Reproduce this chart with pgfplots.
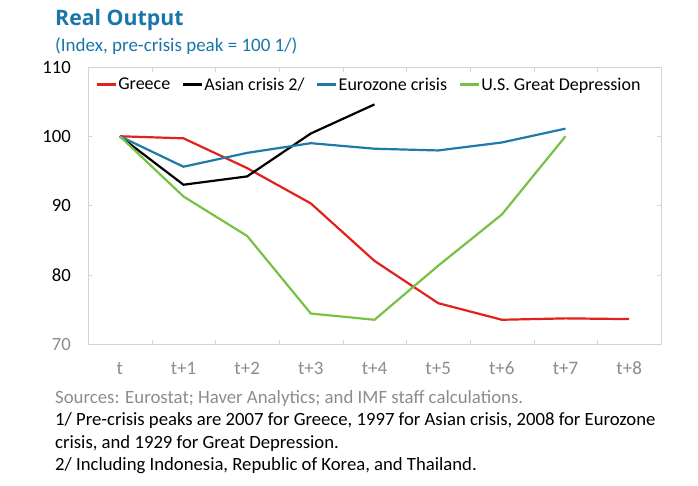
\documentclass[border=0pt]{standalone}
\usepackage{pgfplots}
\pgfplotsset{compat=1.18}
\usepackage{fontspec}
\setmainfont{Carlito}
\newfontfamily\titlefont{Open Sans}
\definecolor{titleblue}{HTML}{1A76A8}
\definecolor{grc}{HTML}{E2211C}
\definecolor{euro}{HTML}{1F7AA8}
\definecolor{usgd}{HTML}{77C145}
\definecolor{framegray}{HTML}{D4D4D4}
\definecolor{labgray}{HTML}{8C8C8C}
\begin{document}
\begin{tikzpicture}[x=1pt,y=1pt]
\begin{axis}[
  scale only axis, width=573pt, height=277pt,
  xmin=-0.5, xmax=8.5, ymin=70, ymax=110,
  xtick={0,...,8},
  xticklabels={t,t+1,t+2,t+3,t+4,t+5,t+6,t+7,t+8},
  extra x ticks={0.5,1.5,2.5,3.5,4.5,5.5,6.5,7.5},
  extra x tick labels={},
  extra x tick style={xtick style={draw=framegray}},
  x tick label style={text=labgray, font=\fontsize{19}{22}\selectfont, anchor=base, inner sep=0pt, yshift=-30pt},
  ytick={80,90,100,110},
  extra y ticks={70},
  extra y tick style={yticklabel style={text=labgray}},
  y tick label style={font=\fontsize{18.7}{22}\selectfont, anchor=east, inner sep=0pt, xshift=-17pt},
  yticklabel style={/pgf/number format/assume math mode=true},
  xtick style={draw=none},
  ytick style={draw=framegray},
  major tick length=4.5pt,
  tick align=inside,
  axis line style={framegray, line width=0.9pt},
  legend style={draw=none, fill=none, at={(rel axis cs:0.013,0.968)}, anchor=north west, font=\fontsize{18}{20}\selectfont, legend columns=-1, inner sep=0pt, nodes={inner sep=1.5pt}, /tikz/every even column/.append style={column sep=10pt}},
  legend image code/.code={\draw[#1, line width=2.2pt] (0pt,0pt) -- (19pt,0pt);},
  legend cell align=left,
  clip=false,
]
\coordinate (O) at (rel axis cs:0,0);
\addplot[grc, line width=2.2pt] coordinates {(0,100) (1,99.7) (2,95.4) (3,90.3) (4,82.0) (5,75.9) (6,73.5) (7,73.7) (8,73.6)};
\addlegendentry{Greece}
\addplot[black, line width=2.2pt] coordinates {(0,100) (1,93.0) (2,94.2) (3,100.4) (4,104.6)};
\addlegendentry{Asian crisis 2/}
\addplot[euro, line width=2.2pt] coordinates {(0,100) (1,95.6) (2,97.6) (3,99.0) (4,98.2) (5,97.95) (6,99.1) (7,101.1)};
\addlegendentry{Eurozone crisis}
\addplot[usgd, line width=2.2pt] coordinates {(0,100) (1,91.3) (2,85.6) (3,74.4) (4,73.5) (5,81.3) (6,88.7) (7,100)};
\addlegendentry{U.S. Great Depression}
\end{axis}
\begin{scope}[shift={(O)}, xshift=-88pt, yshift=-141pt]
\path (0,0) rectangle (698,485);
\node[anchor=base west,text=titleblue,font=\titlefont\fontsize{21.3}{24}\selectfont\bfseries,inner sep=0] at (55,459) {Real Output};
\node[anchor=base west,text=titleblue,font=\fontsize{19}{22}\selectfont,inner sep=0] at (55,433) {(Index, pre-crisis peak = 100 1/)};
\node[anchor=base west,text=labgray,font=\fontsize{18.8}{22}\selectfont,inner sep=0] at (55,82) {Sources: Eurostat; Haver Analytics; and IMF staff calculations.};
\node[anchor=base west,font=\fontsize{18.7}{22}\selectfont,inner sep=0] at (55,59.3) {1/ Pre-crisis peaks are 2007 for Greece, 1997 for Asian crisis, 2008 for Eurozone};
\node[anchor=base west,font=\fontsize{18.7}{22}\selectfont,inner sep=0] at (55,37) {crisis, and 1929 for Great Depression.};
\node[anchor=base west,font=\fontsize{18.7}{22}\selectfont,inner sep=0] at (55,14.3) {2/ Including Indonesia, Republic of Korea, and Thailand.};
\end{scope}
\end{tikzpicture}
\end{document}
